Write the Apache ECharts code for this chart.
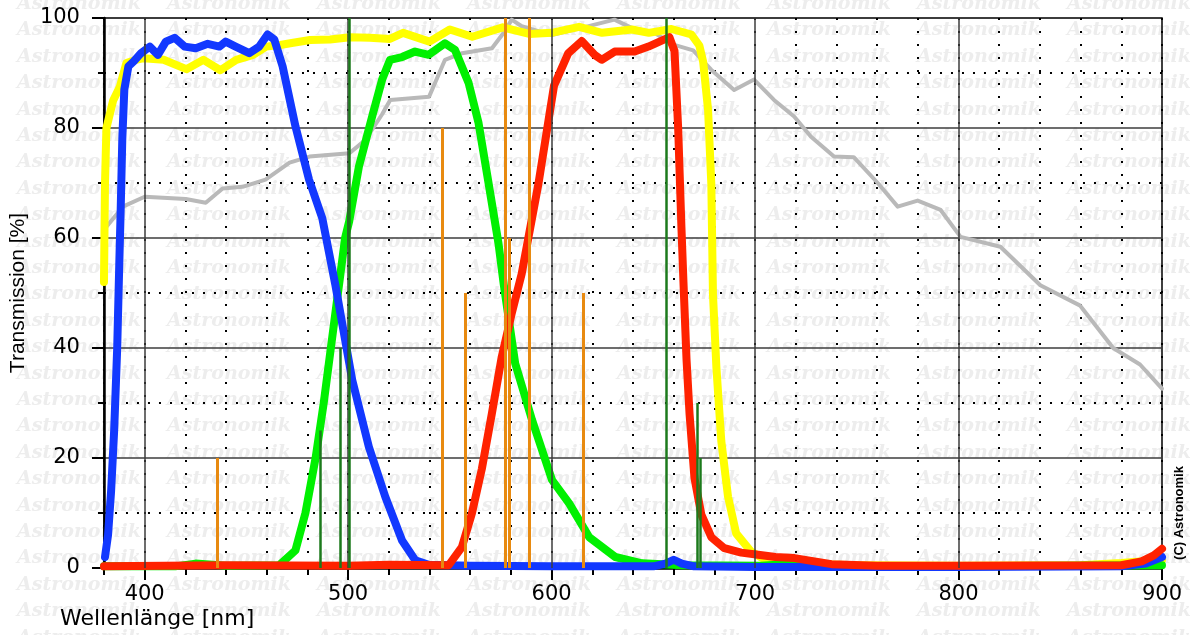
<!DOCTYPE html>
<html><head><meta charset="utf-8">
<script src="https://cdn.jsdelivr.net/npm/echarts@6.0.0/dist/echarts.min.js"></script>
<style>html,body{margin:0;padding:0;background:#fff}#chart{width:1194px;height:635px}</style>
</head><body><div id="chart"></div>
<script>
// ---- data (wavelength in nm, transmission in %) ----
const greyNm=[380,389.3,400,420.2,430,438.3,448.1,459.4,471.2,481,500.6,508.4,516.7,520.7,539.8,547.6,556,570.7,577,580.4,585.3,600,614.8,630.9,639.3,650.5,660.3,669.6,678.4,689.7,699.5,709.3,719.2,727.5,738.8,748.5,760.3,770.1,779.9,791.2,801,820.6,840.2,859.8,876,889.2,900];
const greyT=[61.5,65.7,67.5,67.1,66.4,69,69.3,70.6,73.7,74.8,75.4,77.8,82.5,85.1,85.7,92.4,93.6,94.5,97.6,99.7,98.5,96.9,98.2,99.7,98.2,97.3,95.1,94.1,90.6,86.9,88.8,85.1,82.1,78.4,74.8,74.7,70,65.7,66.8,65.1,60.2,58.4,51.4,47.7,40,37,32.6];

const yellowNm=[380,380.5,381.2,384.5,387.8,391,395.8,399.5,409.3,420.5,428.9,437.2,445,453.3,459.7,466.6,473,481.3,491.1,500.9,510.7,520.5,527,540,550,561,576,589,600,613.5,624.8,639.5,647.8,658.9,668.7,672.6,674.5,676.9,678.5,679.3,681,683.4,686.7,690.7,698,705,720,750,800,860,880,900];
const yellowT=[52,70,80,85,87.5,91.8,92.4,92.7,92.4,90.7,92.4,90.5,92.4,93.3,94.8,95.1,95.5,96,96.1,96.5,96.4,96.2,97.3,95.7,97.9,96.6,98.3,97.1,97.3,98.4,97.3,97.9,97.3,98,97,95,92,83.3,69.8,49.8,36.4,23.1,13,6.3,3,1.5,0.8,0.5,0.4,0.5,0.9,1.5];

const greenNm=[380,415,425,440,466.1,474.1,479,482.5,484,488,491.5,495,498.5,500.5,505.3,511.8,516.7,520.6,526.5,532.9,539.6,547.6,552.5,559.2,564.1,569,573.9,576.5,582.1,590.4,600.2,608.7,618.5,631.3,644.5,664.1,703,720,735,760,800,900];
const greenT=[0.3,0.3,0.8,0.4,0.5,3.2,10,17,20,30,40,50,60,63,73,82.1,88.8,92.4,92.9,93.9,93.3,95.4,94.2,88.2,80.9,70,59,51.5,37.2,26.9,16,11.7,5.6,2,0.85,0.5,0.4,0.8,0.4,0.3,0.3,0.5];

const blueNm=[380.5,382,383.5,385,386.5,387.5,388.2,389,390,392,394.6,398.2,402.5,406.5,410.4,414.7,419.6,425.1,431,436.7,439.8,444.7,451.4,456.3,460.4,463.7,467.8,474.1,480.8,487.3,493.7,502,510.2,518.3,526.5,533,539.6,560,600,650,656,660,664,670,700,800,880,892,900];
const blueT=[2,6,14,25,40,55,65,78,87,91.2,92.1,93.6,94.8,93.3,95.7,96.4,94.8,94.5,95.3,94.8,95.7,94.8,93.6,94.8,97,96.1,91.2,80.3,70.6,63.6,51.5,34.2,22,12.9,5,1.4,0.6,0.4,0.3,0.3,0.8,1.5,0.8,0.3,0.2,0.2,0.3,0.8,2];

const redNm=[380,440,500,520,549.4,555.9,560.8,565.7,570.6,575.5,580.4,585.3,593.5,598.4,601.2,608.2,614.8,621.1,624.6,631,640.8,647.6,655.5,657.9,660.4,662.2,663.8,664.8,666.3,667.8,670.2,673.6,678.5,684.9,693.2,701.5,710,719.4,737.5,760,800,880,890,896,900];
const redT=[0.3,0.5,0.4,0.6,0.5,3.8,9.9,18,28,38.4,46.3,53.5,69.8,81.2,87.7,93.6,95.8,93.3,92.4,93.9,93.9,94.8,96.1,96.5,94,80,62,52,38,28,16.4,9.7,5.6,3.6,2.8,2.4,2,1.8,0.7,0.4,0.4,0.5,1.2,2.3,3.5];

// emission lines
const orangeNm=[435.8,546.1,557.7,577.0,579.1,589.0,615.5];
const orangeT=[20,80,50,100,60,100,50];
const darkGreenNm=[486.1,495.9,500.7,656.3,671.6,673.1];
const darkGreenT=[25,40,100,100,30,20];

// axis ticks
const majorTicksX=[400,500,600,700,800,900];
const majorGridX=[400,500,600,700,800];

const zip=(xs,ys)=>xs.map((x,i)=>[x,ys[i]]);
const seg=(xs,ys)=>xs.map((x,i)=>[{coord:[x,0]},{coord:[x,ys[i]]}]);

const wm=[];
for(let r=0;r<25;r++){for(let c=0;c<8;c++){
  wm.push({type:'text',x:17+150*c,y:4+26.4*r,z:-1,silent:true,
    style:{text:'Astronomik',font:'italic bold 19px "DejaVu Serif"',fill:'#ededed',textVerticalAlign:'middle'}});
}}
wm.push({type:'text',x:1179,y:513,rotation:Math.PI/2,z:5,silent:true,
  style:{text:'(C) Astronomik',font:'bold 13px "Liberation Sans"',fill:'#000',textAlign:'center',textVerticalAlign:'middle'}});

const curve=(name,nm,t,color,width)=>({name,type:'line',data:zip(nm,t),symbol:'none',showSymbol:false,
  lineStyle:{color,width,cap:'round',join:'round'},itemStyle:{color},silent:true});

const chart=echarts.init(document.getElementById('chart'),null,{renderer:'canvas'});
chart.setOption({
  animation:false,
  backgroundColor:'#fff',
  textStyle:{fontFamily:'"DejaVu Sans"'},
  graphic:wm,
  grid:{left:101,right:32,top:18,bottom:67,show:true,borderColor:'#000',borderWidth:1.5},
  xAxis:[{
    type:'value',min:380,max:900,interval:20,
    axisLine:{show:true,onZero:false,lineStyle:{color:'#000',width:2.5}},
    axisTick:{show:true,length:7,lineStyle:{color:'#000',width:2}},
    axisLabel:{show:false},
    splitLine:{show:true,lineStyle:{color:'#000',width:2,type:[2,11]}},
    name:'Wellenlänge [nm]',nameLocation:'start',nameGap:44,
    nameTextStyle:{fontSize:22,fontFamily:'"DejaVu Sans"',color:'#000',align:'left',verticalAlign:'top',padding:[40,0,0,0]}
  },{
    type:'value',min:380,max:900,interval:20,position:'bottom',
    axisLine:{show:false},
    axisTick:{show:true,customValues:majorTicksX,length:12,lineStyle:{color:'#000',width:2}},
    axisLabel:{show:true,customValues:majorTicksX,fontSize:21,color:'#000',fontFamily:'"DejaVu Sans"',margin:16},
    splitLine:{show:false}
  }],
  yAxis:{
    type:'value',min:0,max:100,interval:20,
    axisLine:{show:true,lineStyle:{color:'#000',width:2.5}},
    axisTick:{show:true,length:12,lineStyle:{color:'#000',width:2}},
    minorTick:{show:true,splitNumber:2,length:6,lineStyle:{color:'#000',width:2}},
    axisLabel:{fontSize:21,color:'#000',fontFamily:'"DejaVu Sans"',margin:24},
    splitLine:{show:true,lineStyle:{color:'#3c3c3c',width:1.5}},
    minorSplitLine:{show:true,lineStyle:{color:'#000',width:2,type:[2,9]}},
    name:'Transmission [%]',nameLocation:'middle',nameGap:66,
    nameTextStyle:{fontSize:21,fontFamily:'"Liberation Sans"',color:'#000'}
  },
  series:[
    {type:'line',data:[],silent:true,z:1,
      markLine:{silent:true,symbol:['none','none'],label:{show:false},
        lineStyle:{color:'#3c3c3c',width:1.5,type:'solid'},
        data:majorGridX.map(x=>({xAxis:x}))}},
    curve('grey',greyNm,greyT,'#b9b9b9',4),
    curve('L',yellowNm,yellowT,'#ffff00',8),
    curve('G',greenNm,greenT,'#00f000',8),
    curve('B',blueNm,blueT,'#1238ff',8),
    curve('R',redNm,redT,'#ff2200',8),
    {type:'line',data:[],silent:true,z:4,
      markLine:{silent:true,symbol:['none','none'],label:{show:false},
        lineStyle:{color:'#e88a10',width:3,type:'solid'},
        data:seg(orangeNm,orangeT)}},
    {type:'line',data:[],silent:true,z:4,
      markLine:{silent:true,symbol:['none','none'],label:{show:false},
        lineStyle:{color:'#1c7a1c',width:2.5,type:'solid'},
        data:seg(darkGreenNm,darkGreenT)}}
  ]
});
</script></body></html>
